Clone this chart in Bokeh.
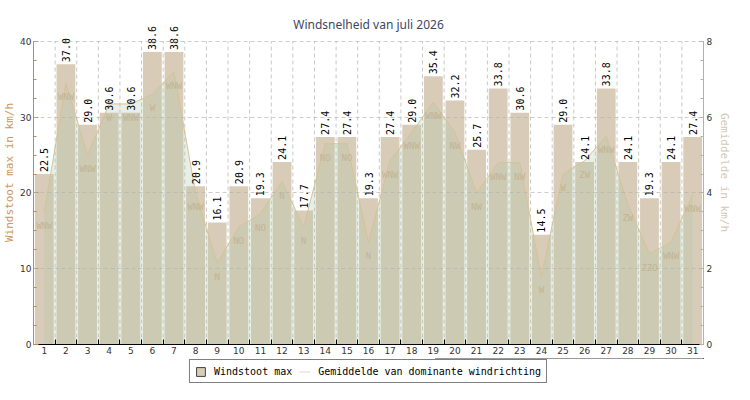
import math
from bokeh.plotting import figure
from bokeh.layouts import column
from bokeh.models import (Range1d, LinearAxis, FixedTicker, Legend, LegendItem,
                          ColumnDataSource, Label)
from bokeh.core.properties import value
from bokeh.embed import file_html
from bokeh.resources import INLINE

# ---- data ----
days = list(range(1, 32))
day_labels = [str(d) for d in days]
gust_max = [22.5, 37.0, 29.0, 30.6, 30.6, 38.6, 38.6, 20.9, 16.1, 20.9,
            19.3, 24.1, 17.7, 27.4, 27.4, 19.3, 27.4, 29.0, 35.4, 32.2,
            25.7, 33.8, 30.6, 14.5, 29.0, 24.1, 33.8, 24.1, 19.3, 24.1, 27.4]
avg_dir_speed = [3.5, 6.9, 5.0, 6.35, 6.35, 6.6, 7.2, 4.0, 2.15, 3.1,
                 3.45, 4.3, 3.1, 5.3, 5.3, 2.7, 4.85, 5.6, 6.4, 5.6,
                 4.0, 4.8, 4.8, 1.8, 4.5, 4.85, 5.5, 3.7, 2.4, 2.7, 3.95]
directions = ["WNW", "WNW", "WNW", "W", "WNW", "W", "WNW", "WNW", "N", "NO",
              "NO", "N", "N", "NO", "NO", "N", "WNW", "WNW", "WNW", "NW",
              "NW", "WNW", "NW", "W", "W", "ZW", "WNW", "ZW", "ZZO", "WNW", "WNW"]
left_ticks = [0, 10, 20, 30, 40]
right_ticks = [0, 2, 4, 6, 8]

title = "Windsnelheid van juli 2026"
left_label = "Windstoot max in km/h"
right_label = "Gemiddelde in km/h"
legend_bar = "Windstoot max"
legend_line = "Gemiddelde van dominante windrichting"

# ---- styles ----
MONO = "DejaVu Sans Mono"
BAR = "#d8ccb8"
AREA = "#adc5a4"
AREA_LINE = "#d6c294"
DIR_TXT = "#c4b494"
LEFT_AX = "#c8884a"
RIGHT_AX = "#b8b0a0"

# headroom above the top tick so the title and value labels fit in the frame
HEAD = 1.135
ymax_left = left_ticks[-1] * HEAD
ymax_right = right_ticks[-1] * HEAD

src = ColumnDataSource(dict(
    x=days, gust=gust_max, avg=avg_dir_speed, dir=directions,
    glabel=["%.1f" % v for v in gust_max]))

x0, x1 = days[0] - 0.5, days[-1] + 0.5
p = figure(width=734, height=358, output_backend="svg", toolbar_location=None,
           x_range=Range1d(x0, x1), y_range=Range1d(0, ymax_left),
           min_border_left=2, min_border_right=2,
           min_border_bottom=14, min_border_top=0)
p.outline_line_color = None
p.background_fill_color = "white"
p.border_fill_color = "white"

p.extra_y_ranges = {"avg": Range1d(0, ymax_right)}

# grids: horizontal via the grid, vertical drawn between the day slots
p.xgrid.visible = False
p.ygrid.ticker = FixedTicker(ticks=left_ticks)
p.ygrid.grid_line_color = "#b4b4ac"
p.ygrid.grid_line_alpha = 0.65
p.ygrid.grid_line_dash = "4 3"
p.ygrid.level = "annotation"

boundaries = [d + 0.5 for d in days[:-1]]
vg = p.segment(x0=boundaries, x1=boundaries, y0=[left_ticks[0]] * len(boundaries),
               y1=[left_ticks[-1]] * len(boundaries), line_color="#c8c8c8",
               line_dash="4 3", line_width=1)
vg.level = "underlay"

# x axis
xa = p.xaxis[0]
xa.ticker = FixedTicker(ticks=days, minor_ticks=boundaries)
xa.major_label_overrides = {d: l for d, l in zip(days, day_labels)}
xa.major_tick_in = 0
xa.major_tick_out = 0
xa.minor_tick_in = 5
xa.minor_tick_out = 0
xa.minor_tick_line_color = "black"
xa.axis_line_color = "black"
xa.major_label_text_font = "DejaVu Sans"
xa.major_label_text_font_size = "9px"
xa.major_label_text_color = "#333333"
xa.major_label_standoff = 2

# left axis
ya = p.yaxis[0]
ya.bounds = (left_ticks[0], left_ticks[-1])
ya.ticker = FixedTicker(ticks=left_ticks,
                        minor_ticks=[i * 2.5 for i in range(17)])
ya.major_tick_in = 5
ya.major_tick_out = 0
ya.minor_tick_in = 3
ya.minor_tick_out = 0
ya.axis_line_color = LEFT_AX
ya.major_tick_line_color = LEFT_AX
ya.minor_tick_line_color = LEFT_AX
ya.major_label_text_font = "DejaVu Sans"
ya.major_label_text_font_size = "9px"
ya.major_label_text_color = "#333333"
ya.major_label_standoff = 2
ya.axis_label = left_label
ya.axis_label_text_font = MONO
ya.axis_label_text_font_size = "11px"
ya.axis_label_text_font_style = "normal"
ya.axis_label_text_color = "#cd965a"
ya.axis_label_standoff = 1

# right axis
ra = LinearAxis(y_range_name="avg", bounds=(right_ticks[0], right_ticks[-1]),
                ticker=FixedTicker(ticks=right_ticks,
                                   minor_ticks=[i * 0.5 for i in range(17)]))
ra.major_tick_in = 4
ra.major_tick_out = 0
ra.minor_tick_in = 3
ra.minor_tick_out = 0
ra.axis_line_color = RIGHT_AX
ra.major_tick_line_color = RIGHT_AX
ra.minor_tick_line_color = RIGHT_AX
ra.major_label_text_font = "DejaVu Sans"
ra.major_label_text_font_size = "9px"
ra.major_label_text_color = "#333333"
ra.major_label_standoff = 3
ra.axis_label = right_label
ra.axis_label_text_font = MONO
ra.axis_label_text_font_size = "11px"
ra.axis_label_text_font_style = "normal"
ra.axis_label_text_color = "#d4c8b4"
ra.axis_label_standoff = 3
p.add_layout(ra, "right")

# bars
p.vbar(x="x", top="gust", width=0.87, source=src, fill_color=BAR,
       line_color=None)

# area for average speed
p.varea(x="x", y1=0, y2="avg", source=src, y_range_name="avg",
        fill_color=AREA, fill_alpha=0.28)
p.line(x="x", y="avg", source=src, y_range_name="avg",
       line_color=AREA_LINE, line_width=1)

# direction labels
p.text(x="x", y="avg", text="dir", source=src, y_range_name="avg",
       text_font=value(MONO), text_font_size="9px", text_color=DIR_TXT,
       text_align="center", text_baseline="middle", y_offset=14)

# value labels on bars
p.text(x="x", y="gust", text="glabel", source=src, angle=math.pi / 2,
       text_font=value(MONO), text_font_size="10px", text_color="black",
       text_align="left", text_baseline="middle", y_offset=-2)

# title inside the headroom
p.add_layout(Label(x=(x0 + x1) / 2, y=left_ticks[-1] * 1.056, text=title,
                   text_align="center", text_baseline="middle",
                   text_font="Noto Sans", text_font_size="12px",
                   text_color="#3d4864"))

# ---- legend strip ----
lg = figure(width=734, height=26, output_backend="svg", toolbar_location=None,
            x_range=Range1d(0, 1), y_range=Range1d(-2, -1),
            x_axis_location=None, y_axis_location=None,
            min_border_left=0, min_border_right=0,
            min_border_top=0, min_border_bottom=0)
lg.outline_line_color = None
lg.grid.visible = False
lg_bar = lg.vbar(x="x", top="gust", width=0.8, source=src, fill_color=BAR,
                 line_color="#404040")
lg_line = lg.line(x="x", y="avg", source=src, line_color="#e4d8bc",
                  line_width=1)
legend = Legend(items=[LegendItem(label=legend_bar, renderers=[lg_bar]),
                       LegendItem(label=legend_line, renderers=[lg_line])],
                orientation="horizontal", location="center")
legend.border_line_color = "black"
legend.border_line_width = 1
legend.background_fill_color = "white"
legend.label_text_font = MONO
legend.label_text_font_size = "10px"
legend.label_text_color = "black"
legend.glyph_width = 11
legend.glyph_height = 11
legend.label_height = 12
legend.label_standoff = 8
legend.spacing = 7
legend.padding = 5
legend.margin = 0
lg.add_layout(legend, "center")

layout = column(p, lg, spacing=0)
open("out.html", "w").write(file_html(layout, INLINE))
